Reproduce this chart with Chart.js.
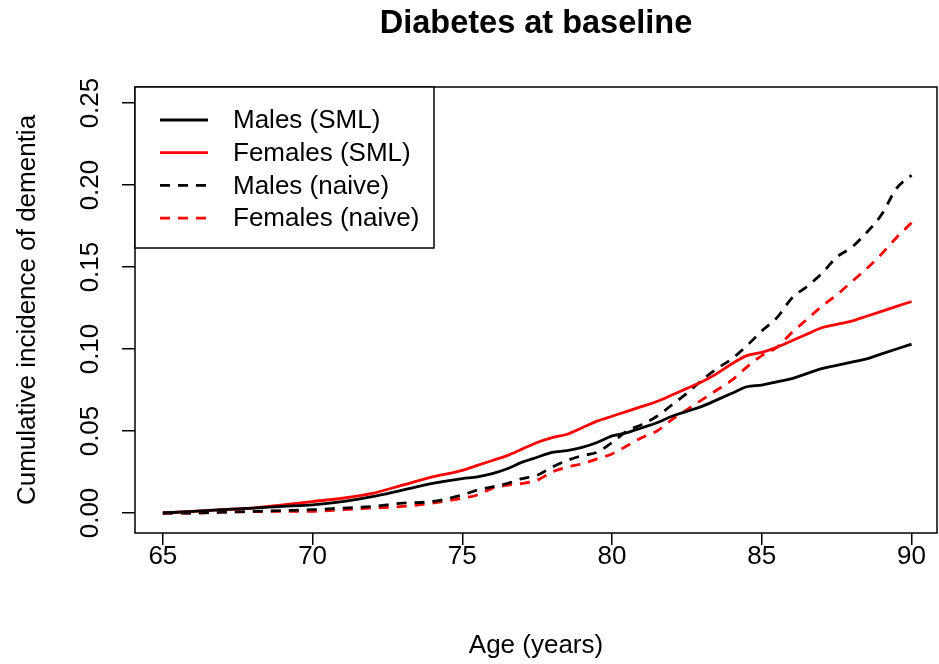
<!DOCTYPE html>
<html>
<head>
<meta charset="utf-8">
<script src="https://cdn.jsdelivr.net/npm/chart.js@4.4.1/dist/chart.umd.min.js"></script>
<style>
html,body{margin:0;padding:0;background:#fff;}
canvas{display:block;}
</style>
</head>
<body>
<canvas id="c" width="939" height="664"></canvas>
<script>
// ---- data ----
const chartTitle = "Diabetes at baseline";
const xAxisTitle = "Age (years)";
const yAxisTitle = "Cumulative incidence of dementia";
const seriesNames = ["Males (SML)", "Females (SML)", "Males (naive)", "Females (naive)"];
const ages = [65,66,67,68,69,70,71,72,73,74,75,75.5,76,76.5,77,77.5,78,78.5,79,79.5,80,80.5,81,81.5,82,82.5,83,83.5,84,84.5,85,85.5,86,86.5,87,87.5,88,88.5,89,89.5,90];
const malesSML = [0,0.001,0.002,0.003,0.004,0.005,0.007,0.010,0.014,0.018,0.021,0.022,0.024,0.027,0.031,0.034,0.037,0.038,0.040,0.043,0.047,0.049,0.052,0.055,0.059,0.062,0.065,0.069,0.073,0.077,0.078,0.080,0.082,0.085,0.088,0.090,0.092,0.094,0.097,0.100,0.103];
const femalesSML = [0,0.001,0.002,0.003,0.005,0.007,0.009,0.012,0.017,0.022,0.026,0.029,0.032,0.035,0.039,0.043,0.046,0.048,0.052,0.056,0.059,0.062,0.065,0.068,0.072,0.076,0.080,0.085,0.091,0.096,0.098,0.101,0.105,0.109,0.113,0.115,0.117,0.120,0.123,0.126,0.129];
const malesNaive = [0,0,0.0005,0.001,0.0015,0.002,0.003,0.004,0.006,0.007,0.011,0.014,0.016,0.018,0.021,0.023,0.028,0.032,0.035,0.037,0.043,0.050,0.054,0.059,0.066,0.073,0.081,0.088,0.094,0.102,0.111,0.119,0.131,0.138,0.146,0.156,0.162,0.171,0.182,0.198,0.206];
const femalesNaive = [0,0,0.0005,0.0008,0.001,0.001,0.002,0.003,0.004,0.006,0.009,0.011,0.015,0.017,0.018,0.020,0.025,0.028,0.030,0.033,0.036,0.041,0.046,0.050,0.057,0.063,0.069,0.075,0.081,0.089,0.096,0.101,0.110,0.118,0.126,0.133,0.141,0.149,0.158,0.168,0.177];
const xTicks = [65,70,75,80,85,90];
const yTicks = [0,0.05,0.10,0.15,0.20,0.25];
const yTickLabels = ["0.00","0.05","0.10","0.15","0.20","0.25"];

// ---- styling ----
const FONT = "'Liberation Sans', Arial, sans-serif";
const seriesValues = [malesSML, femalesSML, malesNaive, femalesNaive];
const seriesColors = ["#000000", "#ff0000", "#000000", "#ff0000"];
const seriesDash = [[], [], [10, 8], [10, 8]];

const datasets = seriesValues.map((vals, i) => ({
  label: seriesNames[i],
  data: ages.map((a, j) => ({x: a, y: vals[j]})),
  borderColor: seriesColors[i],
  backgroundColor: seriesColors[i],
  borderDash: seriesDash[i],
  borderWidth: 2.8,
  pointRadius: 0,
  tension: 0.3,
  cubicInterpolationMode: 'monotone',
  fill: false
}));

const decor = {
  id: 'decor',
  afterDraw(chart) {
    const ctx = chart.ctx;
    const a = chart.chartArea;
    const ys = chart.scales.y;
    ctx.save();
    // box
    ctx.strokeStyle = '#000';
    ctx.lineWidth = 1.5;
    ctx.setLineDash([]);
    ctx.strokeRect(a.left, a.top, a.right - a.left, a.bottom - a.top);
    // title
    ctx.fillStyle = '#000';
    ctx.font = "bold 32.5px " + FONT;
    ctx.textAlign = 'center';
    ctx.textBaseline = 'alphabetic';
    ctx.fillText(chartTitle, (a.left + a.right) / 2, 33);
    // rotated y tick labels
    ctx.font = "26px " + FONT;
    yTicks.forEach((v, i) => {
      const py = ys.getPixelForValue(v);
      ctx.save();
      ctx.translate(98, py);
      ctx.rotate(-Math.PI / 2);
      ctx.textAlign = 'center';
      ctx.textBaseline = 'alphabetic';
      ctx.fillText(yTickLabels[i], 0, 0);
      ctx.restore();
    });
    // legend
    const lx = a.left, ly = a.top, lw = 299, lh = 161;
    ctx.fillStyle = '#fff';
    ctx.fillRect(lx, ly, lw, lh);
    ctx.strokeStyle = '#000';
    ctx.lineWidth = 1.5;
    ctx.strokeRect(lx, ly, lw, lh);
    chart.data.datasets.forEach((ds, i) => {
      const rowY = ly + 33 + i * 32.7;
      ctx.strokeStyle = ds.borderColor;
      ctx.lineWidth = 2.8;
      ctx.setLineDash(ds.borderDash);
      ctx.beginPath();
      ctx.moveTo(lx + 25, rowY);
      ctx.lineTo(lx + 73, rowY);
      ctx.stroke();
      ctx.setLineDash([]);
      ctx.fillStyle = '#000';
      ctx.font = "26px " + FONT;
      ctx.textAlign = 'left';
      ctx.textBaseline = 'middle';
      ctx.fillText(ds.label, lx + 98, rowY + 1);
    });
    ctx.restore();
  }
};

new Chart(document.getElementById('c'), {
  type: 'line',
  data: { datasets },
  options: {
    responsive: false,
    animation: false,
    devicePixelRatio: 1,
    layout: { padding: { top: 87, right: 2, left: 0, bottom: 0 } },
    plugins: { legend: { display: false }, title: { display: false }, tooltip: { enabled: false } },
    scales: {
      x: {
        type: 'linear',
        min: 64.07, max: 90.85,
        afterBuildTicks: s => { s.ticks = xTicks.map(v => ({ value: v })); },
        afterFit: s => { s.height = 131; },
        border: { display: false },
        grid: { drawOnChartArea: false, drawTicks: true, tickLength: 12, color: '#000', lineWidth: 1.5 },
        ticks: { color: '#000', font: { family: FONT, size: 26 }, padding: -4, maxRotation: 0, autoSkip: false },
        title: { display: true, text: xAxisTitle, color: '#000', font: { family: FONT, size: 26 }, padding: { top: 0, bottom: 3 } }
      },
      y: {
        type: 'linear',
        min: -0.0122, max: 0.2598,
        afterBuildTicks: s => { s.ticks = yTicks.map(v => ({ value: v })); },
        afterFit: s => { s.width = 135; },
        border: { display: false },
        grid: { drawOnChartArea: false, drawTicks: true, tickLength: 13, color: '#000', lineWidth: 1.5 },
        ticks: { display: false },
        title: { display: true, text: yAxisTitle, color: '#000', font: { family: FONT, size: 26 }, padding: { top: 12, bottom: 0 } }
      }
    }
  },
  plugins: [decor]
});
</script>
</body>
</html>
